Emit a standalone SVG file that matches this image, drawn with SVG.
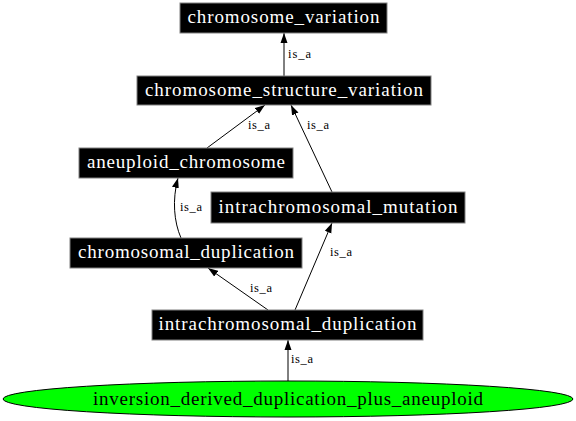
<svg xmlns="http://www.w3.org/2000/svg" width="576" height="421" viewBox="0 0 576 421">
<style>
.box{fill:#000;stroke:#808080;stroke-width:1}
.nt{font-family:"Liberation Serif","Times New Roman",serif;font-size:19px;fill:#fff;text-anchor:middle}
.et{font-family:"Liberation Serif","Times New Roman",serif;font-size:12.5px;fill:#000}
.edge{fill:none;stroke:#000;stroke-width:1}
</style>
<defs>
<marker id="arr" markerWidth="10" markerHeight="8" refX="10" refY="4" orient="auto" markerUnits="userSpaceOnUse">
<path d="M0,0.5 L10,4 L0,7.5 Z" fill="#000"/>
</marker>
</defs>
<rect width="576" height="421" fill="#fff"/>
<g id="connectors">
<path class="edge" d="M284,76 L284,33" marker-end="url(#arr)"/>
<path class="edge" d="M207,148 L265,105" marker-end="url(#arr)"/>
<path class="edge" d="M332,192 L291,105" marker-end="url(#arr)"/>
<path class="edge" d="M181,238 C174,222 172,200 178,178" marker-end="url(#arr)"/>
<path class="edge" d="M268,310 L208,268" marker-end="url(#arr)"/>
<path class="edge" d="M295,310 L332,223" marker-end="url(#arr)"/>
<path class="edge" d="M288,381 L288,340" marker-end="url(#arr)"/>
<text class="et" x="288" y="58" textLength="23" lengthAdjust="spacing">is_a</text>
<text class="et" x="248" y="129" textLength="22" lengthAdjust="spacing">is_a</text>
<text class="et" x="307" y="129" textLength="22" lengthAdjust="spacing">is_a</text>
<text class="et" x="180" y="211" textLength="22" lengthAdjust="spacing">is_a</text>
<text class="et" x="250" y="292" textLength="22" lengthAdjust="spacing">is_a</text>
<text class="et" x="330" y="256" textLength="22" lengthAdjust="spacing">is_a</text>
<text class="et" x="291" y="363" textLength="22" lengthAdjust="spacing">is_a</text>
</g>
<g id="chromosome_variation">
<rect class="box" x="180" y="3" width="207" height="30"/>
<text class="nt" x="283.5" y="23" textLength="192" lengthAdjust="spacing">chromosome_variation</text>
</g>
<g id="chromosome_structure_variation">
<rect class="box" x="137" y="76" width="294" height="29"/>
<text class="nt" x="284" y="96" textLength="278" lengthAdjust="spacing">chromosome_structure_variation</text>
</g>
<g id="aneuploid_chromosome">
<rect class="box" x="79" y="148" width="214" height="30"/>
<text class="nt" x="186" y="168" textLength="198" lengthAdjust="spacing">aneuploid_chromosome</text>
</g>
<g id="intrachromosomal_mutation">
<rect class="box" x="211" y="192" width="254" height="31"/>
<text class="nt" x="338" y="212.5" textLength="239" lengthAdjust="spacing">intrachromosomal_mutation</text>
</g>
<g id="chromosomal_duplication">
<rect class="box" x="70" y="238" width="232" height="30"/>
<text class="nt" x="186" y="258" textLength="216" lengthAdjust="spacing">chromosomal_duplication</text>
</g>
<g id="intrachromosomal_duplication">
<rect class="box" x="152" y="310" width="271" height="30"/>
<text class="nt" x="287.5" y="330" textLength="258" lengthAdjust="spacing">intrachromosomal_duplication</text>
</g>
<g id="inversion_derived_duplication_plus_aneuploid">
<ellipse cx="288" cy="399" rx="285" ry="18" fill="#00ff00" stroke="#000" stroke-width="1"/>
<text class="nt" x="288" y="405" style="fill:#000" textLength="390" lengthAdjust="spacing">inversion_derived_duplication_plus_aneuploid</text>
</g>
</svg>
